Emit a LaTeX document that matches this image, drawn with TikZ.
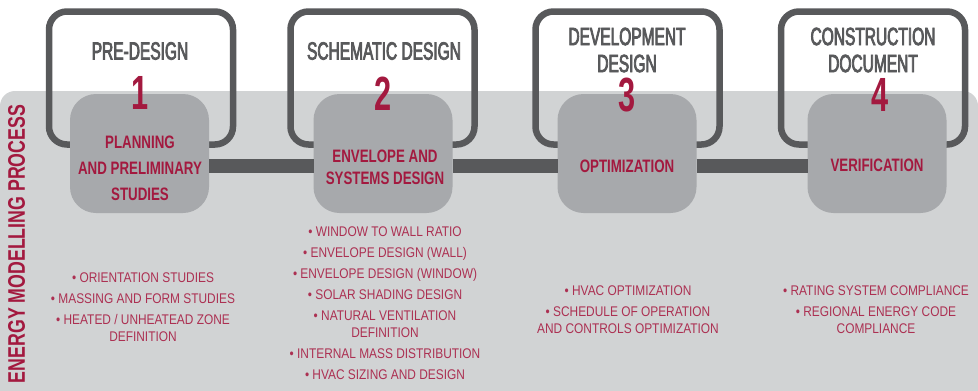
\documentclass[tikz,border=0pt]{standalone}
\usepackage{fontspec}
\setmainfont{Liberation Sans}
\newfontfamily\headfont[FakeStretch=0.62,FakeBold=3]{Liberation Sans}
\newfontfamily\stepfont[FakeStretch=0.74]{Liberation Sans}
\newfontfamily\numfont[FakeStretch=0.64]{Liberation Sans}
\newfontfamily\listfont[FakeStretch=0.85]{Liberation Sans}
\definecolor{darkgrey}{HTML}{58595B}
\definecolor{boxgrey}{HTML}{A7A9AC}
\definecolor{panelgrey}{HTML}{D1D3D4}
\definecolor{crimson}{HTML}{A3193F}

\begin{document}
\begin{tikzpicture}[x=1pt,y=-1pt,every node/.style={inner sep=0pt, outer sep=0pt},
  phase/.style={draw=darkgrey, line width=6.5pt, rounded corners=18pt, minimum width=184pt, minimum height=133pt},
  stagebox/.style={fill=boxgrey, rounded corners=26pt, minimum width=139pt, minimum height=119pt},
  title/.style={text=darkgrey, align=center, font=\headfont\fontsize{25}{27}\selectfont},
  num/.style={text=crimson, font=\numfont\bfseries\fontsize{48}{48}\selectfont},
  task/.style={text=crimson, align=center, font=\stepfont\bfseries\fontsize{18}{22}\selectfont},
  items/.style={text=crimson!90, align=center, anchor=north, font=\listfont\fontsize{14}{17}\selectfont},
  bar/.style={draw=darkgrey, line width=14pt}]
\clip (0,0) rectangle (978,391);
\fill[white] (0,0) rectangle (978,391);
\fill[panelgrey, rounded corners=15pt] (0,91) rectangle (978,420);

\node[phase] (ph1) at (141,78) {};
\node[phase] (ph2) at (382.5,78) {};
\node[phase] (ph3) at (627.5,78) {};
\node[phase] (ph4) at (873,78) {};

\node[stagebox] (st1) at (139.5,153.5) {};
\node[stagebox] (st2) at (383,153.5) {};
\node[stagebox] (st3) at (627,153.5) {};
\node[stagebox] (st4) at (877,153.5) {};
\draw[bar] ([yshift=-12.5pt]st1.east) -- ([yshift=-12.5pt]st2.west);
\draw[bar] ([yshift=-12.5pt]st2.east) -- ([yshift=-12.5pt]st3.west);
\draw[bar] ([yshift=-12.5pt]st3.east) -- ([yshift=-12.5pt]st4.west);

\node[title] (hd1) at (140,51) {PRE-DESIGN};
\node[title] (hd2) at (384,51) {SCHEMATIC DESIGN};
\node[title] (hd3) at (627,50) {DEVELOPMENT\\DESIGN};
\node[title] (hd4) at (873,50) {CONSTRUCTION\\DOCUMENT};

\node[num] (n1) at (140,93) {1};
\node[num] (n2) at (383,94) {2};
\node[num] (n3) at (627,95) {3};
\node[num] (n4) at (880,95) {4};

\node[task, font=\stepfont\bfseries\fontsize{18}{26}\selectfont] (tk1) at (140,168) {PLANNING\\AND PRELIMINARY\\STUDIES};
\node[task] (tk2) at (385,167) {ENVELOPE AND\\SYSTEMS DESIGN};
\node[task] (tk3) at (627,166) {OPTIMIZATION};
\node[task] (tk4) at (877,165) {VERIFICATION};

\node[text=crimson, rotate=90, font=\stepfont\bfseries\fontsize{24}{24}\selectfont] (side) at (16.5,244) {ENERGY MODELLING PROCESS};

\node[items] (ls1) at (143,273) {\textbullet\ ORIENTATION STUDIES\\[4pt]
  \textbullet\ MASSING AND FORM STUDIES\\[4pt]
  \textbullet\ HEATED / UNHEATEAD ZONE\\DEFINITION};
\node[items] (ls2) at (385,227) {\textbullet\ WINDOW TO WALL RATIO\\[4pt]
  \textbullet\ ENVELOPE DESIGN (WALL)\\[4pt]
  \textbullet\ ENVELOPE DESIGN (WINDOW)\\[4pt]
  \textbullet\ SOLAR SHADING DESIGN\\[4pt]
  \textbullet\ NATURAL VENTILATION\\DEFINITION\\[4pt]
  \textbullet\ INTERNAL MASS DISTRIBUTION\\[4pt]
  \textbullet\ HVAC SIZING AND DESIGN};
\node[items] (ls3) at (628,286) {\textbullet\ HVAC OPTIMIZATION\\[4pt]
  \textbullet\ SCHEDULE OF OPERATION\\AND CONTROLS OPTIMIZATION};
\node[items] (ls4) at (876,286) {\textbullet\ RATING SYSTEM COMPLIANCE\\[4pt]
  \textbullet\ REGIONAL ENERGY CODE\\COMPLIANCE};
\end{tikzpicture}
\end{document}
